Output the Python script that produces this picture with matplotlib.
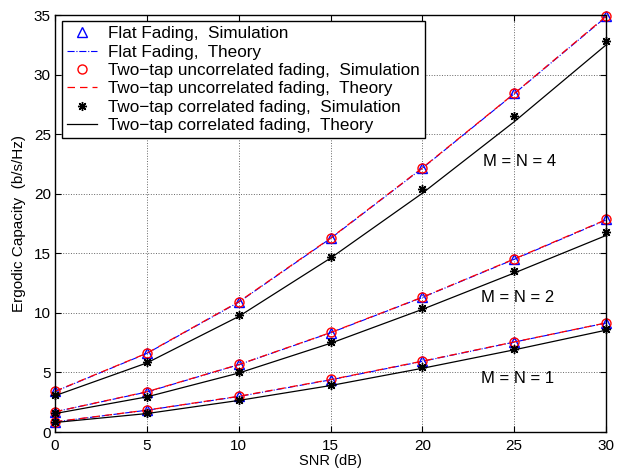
import numpy as np
import matplotlib.pyplot as plt

plt.rcParams['font.family'] = ['Liberation Sans', 'DejaVu Sans']

snr = [0, 5, 10, 15, 20, 25, 30]

# flat fading (simulation and theory nearly coincide with two-tap uncorrelated)
flat_sim_4 = [3.45, 6.63, 10.95, 16.3, 22.2, 28.45, 34.9]
flat_sim_2 = [1.71, 3.38, 5.67, 8.35, 11.33, 14.55, 17.85]
flat_sim_1 = [0.86, 1.84, 3.0, 4.4, 5.95, 7.57, 9.17]
flat_th_4 = [3.4, 6.6, 10.9, 16.25, 22.15, 28.4, 34.85]
flat_th_2 = [1.7, 3.36, 5.65, 8.33, 11.3, 14.5, 17.8]
flat_th_1 = [0.85, 1.83, 2.98, 4.38, 5.93, 7.55, 9.15]

unc_sim_4 = [3.45, 6.63, 10.95, 16.3, 22.2, 28.45, 34.95]
unc_sim_2 = [1.71, 3.39, 5.68, 8.37, 11.33, 14.55, 17.86]
unc_sim_1 = [0.87, 1.85, 3.02, 4.42, 5.96, 7.58, 9.18]
unc_th_4 = [3.42, 6.62, 10.93, 16.28, 22.18, 28.42, 34.9]
unc_th_2 = [1.7, 3.38, 5.66, 8.35, 11.32, 14.53, 17.83]
unc_th_1 = [0.86, 1.84, 3.0, 4.4, 5.95, 7.56, 9.16]

cor_sim_4 = [3.1, 5.9, 9.82, 14.7, 20.4, 26.5, 32.85]
cor_sim_2 = [1.57, 2.97, 5.01, 7.53, 10.38, 13.5, 16.77]
cor_sim_1 = [0.8, 1.57, 2.69, 3.95, 5.43, 6.97, 8.62]
cor_th_4 = [3.05, 5.8, 9.7, 14.6, 20.05, 26.05, 32.5]
cor_th_2 = [1.55, 2.95, 4.95, 7.45, 10.3, 13.35, 16.5]
cor_th_1 = [0.8, 1.55, 2.65, 3.9, 5.35, 6.9, 8.55]

labels = ["Flat Fading,  Simulation",
          "Flat Fading,  Theory",
          "Two\u2212tap uncorrelated fading,  Simulation",
          "Two\u2212tap uncorrelated fading,  Theory",
          "Two\u2212tap correlated fading,  Simulation",
          "Two\u2212tap correlated fading,  Theory"]

fig = plt.figure(figsize=(6.19, 4.75), dpi=100)
ax = fig.add_axes([0.0889, 0.0905, 0.8901, 0.8775])

groups = [
    (flat_sim_4, flat_sim_2, flat_sim_1, dict(ls='none', marker='^', mfc='none', mec='b', ms=6.5, mew=1)),
    (flat_th_4, flat_th_2, flat_th_1, dict(ls='-.', color='b', lw=0.8)),
    (unc_sim_4, unc_sim_2, unc_sim_1, dict(ls='none', marker='o', mfc='none', mec='r', ms=6.5, mew=1)),
    (unc_th_4, unc_th_2, unc_th_1, dict(ls=(0, (6, 4)), color='r', lw=0.9)),
    (cor_sim_4, cor_sim_2, cor_sim_1, dict(ls='none', marker=(8, 2, 0), color='k', ms=6.5, mew=1.0)),
    (cor_th_4, cor_th_2, cor_th_1, dict(ls='-', color='k', lw=0.9)),
]

handles = []
for lab, (a, b, c, style) in zip(labels, groups):
    h, = ax.plot(snr, a, label=lab, clip_on=False, **style)
    ax.plot(snr, b, clip_on=False, **style)
    ax.plot(snr, c, clip_on=False, **style)
    handles.append(h)

ax.set_xlim(0, 30)
ax.set_ylim(0, 35)
ax.set_xticks(range(0, 31, 5))
ax.set_yticks(range(0, 36, 5))
ax.grid(True, ls=':', color='0.4', lw=0.7)
ax.tick_params(direction='in', top=True, right=True, labelsize=11, length=4)
ax.tick_params(axis='x', pad=5)
ax.tick_params(axis='y', pad=3)
for s in ax.spines.values():
    s.set_linewidth(1.0)

ax.set_xlabel("SNR (dB)", fontsize=10.5, labelpad=1)
ax.set_ylabel("Ergodic Capacity  (b/s/Hz)", fontsize=11, labelpad=6)

ax.text(25.3, 22.7, "M = N = 4", fontsize=12, ha='center', va='center')
ax.text(25.2, 11.3, "M = N = 2", fontsize=12, ha='center', va='center')
ax.text(25.2, 4.5, "M = N = 1", fontsize=12, ha='center', va='center')

leg = ax.legend(handles=handles, loc='upper left', bbox_to_anchor=(0.0127, 0.986),
                borderaxespad=0, fontsize=12.3, fancybox=False, framealpha=1,
                edgecolor='k', handlelength=1.75, handletextpad=0.65,
                labelspacing=0.2, borderpad=0.3)
leg.get_frame().set_linewidth(1.0)

fig.savefig("out.png", dpi=100)
